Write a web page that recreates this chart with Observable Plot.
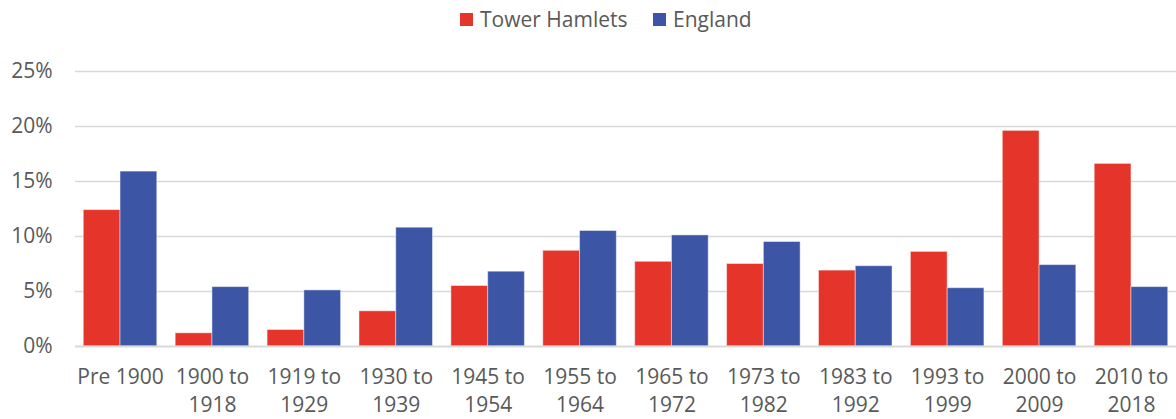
<!DOCTYPE html>
<html>
<head>
<meta charset="utf-8">
<script src="https://cdn.jsdelivr.net/npm/d3@7"></script>
<script src="https://cdn.jsdelivr.net/npm/@observablehq/plot@0.6"></script>
<style>
  html, body { margin: 0; padding: 0; background: #fff; }
  body { width: 1176px; height: 419px; overflow: hidden; font-family: "Open Sans", sans-serif; }
  #legend { position: relative; height: 36px; width: 1176px; color: #595959; font-size: 21px; }
  #legend .sw { position: absolute; width: 13px; height: 13px; top: 13px; }
  #legend .lab { position: absolute; top: 4px; line-height: 30px; white-space: nowrap; }
  #chart svg { display: block; }
</style>
</head>
<body>
<div id="legend"></div>
<div id="chart"></div>
<script>
const categories = ["Pre 1900", "1900 to 1918", "1919 to 1929", "1930 to 1939", "1945 to 1954", "1955 to 1964",
  "1965 to 1972", "1973 to 1982", "1983 to 1992", "1993 to 1999", "2000 to 2009", "2010 to 2018"];
const towerHamlets = [12.4, 1.2, 1.5, 3.2, 5.5, 8.7, 7.7, 7.5, 6.9, 8.6, 19.6, 16.6];
const england = [15.9, 5.4, 5.1, 10.8, 6.8, 10.5, 10.1, 9.5, 7.3, 5.3, 7.4, 5.4];
const series = ["Tower Hamlets", "England"];
const colors = ["#E5352A", "#3C56A5"];
const yTicks = [0, 5, 10, 15, 20, 25];

const data = categories.flatMap((c, i) => [
  {category: c, series: series[0], value: towerHamlets[i]},
  {category: c, series: series[1], value: england[i]}
]);

const W = 1176, H = 383, ML = 75, MR = 0, MT = 35, MB = 73;
const PI = 0.2, PO = 0.09;
const band = d3.scaleBand().domain(categories).range([ML, W - MR]).paddingInner(PI).paddingOuter(PO);
const half = band.bandwidth() / 2;

const chart = Plot.plot({
  width: W, height: H,
  marginLeft: ML, marginRight: MR, marginTop: MT, marginBottom: MB,
  style: {fontFamily: "'Open Sans', sans-serif", fontSize: "21px", color: "#595959", background: "#fff"},
  x: {domain: categories, paddingInner: PI, paddingOuter: PO, round: false, label: null},
  y: {domain: [0, 25], label: null},
  color: {domain: series, range: colors},
  marks: [
    Plot.ruleY(yTicks.filter(d => d > 0), {stroke: "#d9d9d9", strokeWidth: 1.5}),
    Plot.barY(data.filter(d => d.series === series[0]), {x: "category", y: "value", fill: "series", insetRight: half, stroke: "#fff", strokeOpacity: 0.45, strokeWidth: 1}),
    Plot.barY(data.filter(d => d.series === series[1]), {x: "category", y: "value", fill: "series", insetLeft: half, stroke: "#fff", strokeOpacity: 0.45, strokeWidth: 1}),
    Plot.ruleY([0], {stroke: "#d9d9d9", strokeWidth: 2}),
    Plot.axisY({ticks: yTicks, tickFormat: d => d + "%", tickSize: 0, tickPadding: 23, fill: "#595959", fontSize: 21, label: null}),
    Plot.axisX({tickSize: 0, tickPadding: 18, tickFormat: d => d.replace(" to ", " to\n"), lineHeight: 1.33, fill: "#595959", fontSize: 21, label: null})
  ]
});
document.getElementById("chart").appendChild(chart);

// legend
const legend = document.getElementById("legend");
const lx = [460, 653];
series.forEach((s, i) => {
  const sw = document.createElement("div");
  sw.className = "sw";
  sw.style.left = lx[i] + "px";
  sw.style.background = colors[i];
  legend.appendChild(sw);
  const lab = document.createElement("div");
  lab.className = "lab";
  lab.style.left = (lx[i] + 20) + "px";
  lab.textContent = s;
  legend.appendChild(lab);
});
</script>
</body>
</html>
